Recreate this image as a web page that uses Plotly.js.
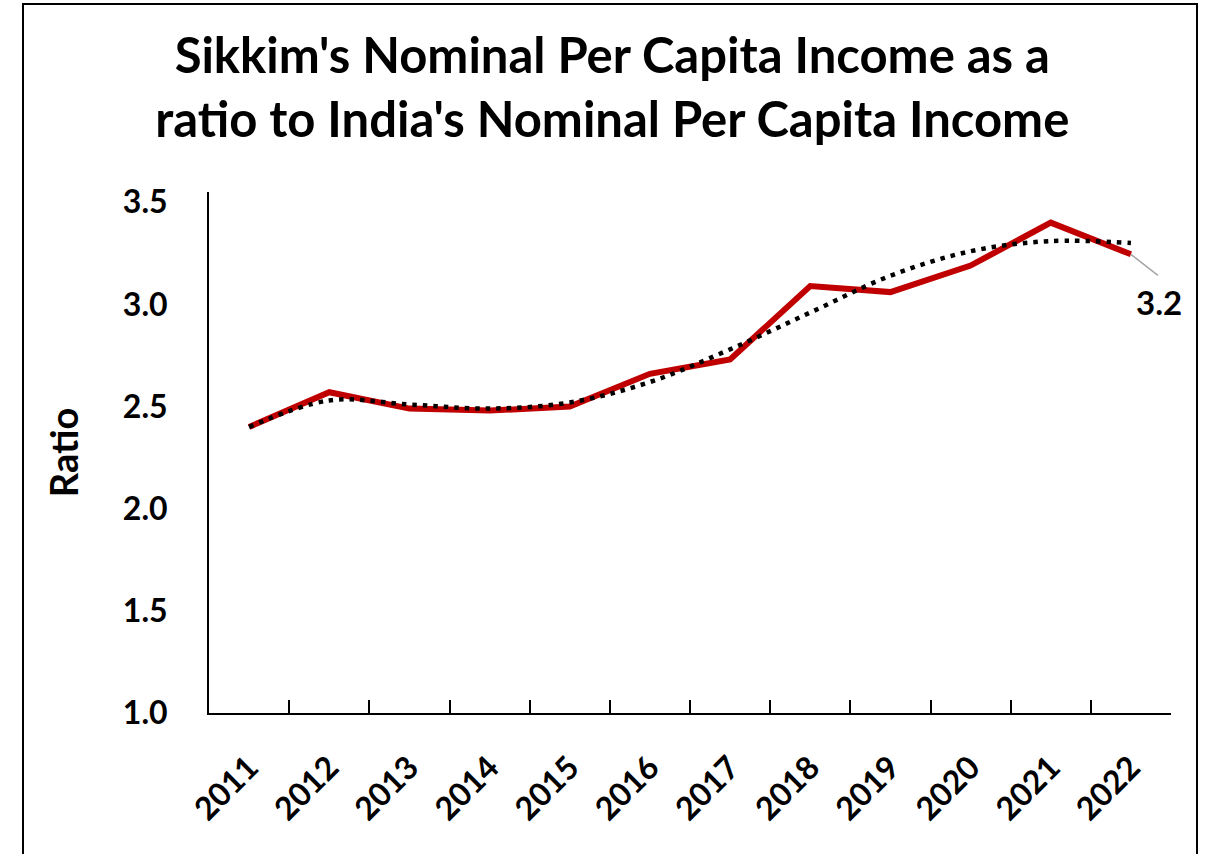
<!DOCTYPE html>
<html>
<head>
<meta charset="utf-8">
<script src="https://cdn.plot.ly/plotly-3.0.1.min.js"></script>
<style>
  html, body { margin: 0; padding: 0; background: #ffffff; overflow: hidden; }
  #wrap { position: relative; width: 1210px; height: 854px; }
  #chart { position: absolute; left: 0; top: 0; width: 1210px; height: 854px; }
  #frame { position: absolute; left: 22px; top: 3px; width: 1176px; height: 900px;
           border: 2.5px solid #000; pointer-events: none; box-sizing: border-box; }
</style>
</head>
<body>
<div id="wrap">
  <div id="chart"></div>
  <div id="frame"></div>
</div>
<script>
// ---- data ----
var years = ["2011","2012","2013","2014","2015","2016","2017","2018","2019","2020","2021","2022"];
var ratio = [2.40, 2.57, 2.49, 2.48, 2.50, 2.66, 2.73, 3.09, 3.06, 3.19, 3.40, 3.245];
var trend = [2.40, 2.53, 2.51, 2.49, 2.52, 2.62, 2.78, 2.96, 3.14, 3.26, 3.31, 3.30];
var titleText = "Sikkim's Nominal Per Capita Income as a<br>ratio to India's Nominal Per Capita Income";
var yTitle = "Ratio";

var FONT = "Lato, 'Open Sans', sans-serif";
var last = ratio.length - 1;

var traces = [
  {
    x: years, y: ratio, type: "scatter", mode: "lines",
    line: { color: "#C00000", width: 6 },
    hoverinfo: "x+y", showlegend: false
  },
  {
    x: years, y: trend, type: "scatter", mode: "lines",
    line: { color: "#000000", width: 4.5, dash: "4.5px,6px", shape: "spline", smoothing: 1 },
    hoverinfo: "skip", showlegend: false
  }
];

var layout = {
  width: 1210, height: 854,
  paper_bgcolor: "#ffffff", plot_bgcolor: "#ffffff",
  margin: { l: 209, r: 39, t: 192, b: 141, autoexpand: false },
  font: { family: FONT, color: "#000000" },
  title: {
    text: titleText,
    font: { family: FONT, size: 49, color: "#000000", weight: "bold" },
    xref: "container", yref: "container",
    x: 0.506, xanchor: "center",
    y: 0.914, yanchor: "middle"
  },
  xaxis: {
    type: "category",
    range: [-0.5, 11.5],
    showline: true, linecolor: "#000000", linewidth: 2,
    ticks: "inside", tickson: "boundaries", ticklen: 13, tickwidth: 2, tickcolor: "#000000",
    tickangle: -45,
    ticklabelstandoff: 21,
    tickfont: { family: FONT, size: 32, color: "#000000", weight: "bold" },
    showgrid: false, zeroline: false, automargin: false, fixedrange: true
  },
  yaxis: {
    range: [1, 3.55],
    tickmode: "linear", tick0: 1, dtick: 0.5, tickformat: ".1f",
    showline: true, linecolor: "#000000", linewidth: 2,
    ticks: "", ticklabelstandoff: 33,
    tickfont: { family: FONT, size: 32, color: "#000000", weight: "bold" },
    showgrid: false, zeroline: false, automargin: false, fixedrange: true,
    title: {
      text: yTitle, standoff: 33,
      font: { family: FONT, size: 38, color: "#000000", weight: "bold" }
    }
  },
  shapes: [
    {
      type: "line", layer: "above",
      xref: "x", yref: "y",
      xsizemode: "pixel", ysizemode: "pixel",
      xanchor: last, yanchor: ratio[last],
      x0: 0, y0: 0, x1: 27, y1: -21,
      line: { color: "#A6A6A6", width: 1.5 }
    }
  ],
  annotations: [
    {
      x: last, y: ratio[last], xref: "x", yref: "y",
      text: ratio[last].toFixed(1),
      showarrow: false,
      xshift: 28.5, yshift: -48,
      xanchor: "center", yanchor: "middle",
      font: { family: FONT, size: 33, color: "#000000", weight: "bold" }
    }
  ]
};

Plotly.newPlot("chart", traces, layout, { displayModeBar: false });
</script>
</body>
</html>
